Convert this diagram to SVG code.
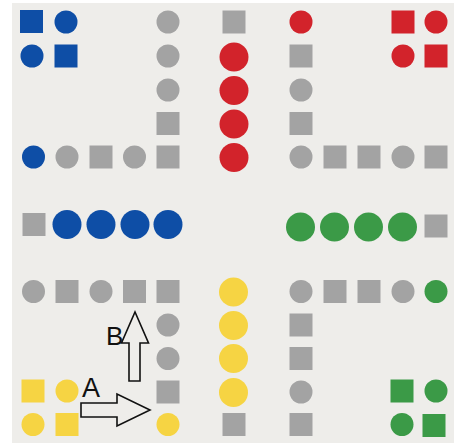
<svg xmlns="http://www.w3.org/2000/svg" width="454" height="443" viewBox="0 0 454 443">
<style>
.g{fill:#a3a3a3}
.b{fill:#0e4ea6}
.r{fill:#d2232b}
.gr{fill:#3b9a47}
.y{fill:#f6d443}
.arr{fill:none;stroke:#111;stroke-width:1.6;stroke-linejoin:miter}
.lbl{font-family:"Liberation Sans",Arial,sans-serif;fill:#111}
</style>
<defs>
<circle id="c" r="11.5"/>
<circle id="C" r="14.5"/>
<rect id="s" x="-11.5" y="-11.5" width="23" height="23"/>
</defs>
<rect width="454" height="443" fill="#ffffff"/>
<rect x="12" y="3" width="442" height="440" fill="#eeedea"/>

<g id="blue-home">
<use href="#s" class="b" x="31.5" y="21.5"/>
<use href="#c" class="b" x="66" y="22"/>
<use href="#c" class="b" x="32" y="56"/>
<use href="#s" class="b" x="66" y="56"/>
</g>
<g id="red-home">
<use href="#s" class="r" x="403" y="22"/>
<use href="#c" class="r" x="436" y="22"/>
<use href="#c" class="r" x="403" y="56"/>
<use href="#s" class="r" x="436" y="56"/>
</g>
<g id="yellow-home">
<use href="#s" class="y" x="33" y="391"/>
<use href="#c" class="y" x="67" y="391"/>
<use href="#c" class="y" x="33" y="424.5"/>
<use href="#s" class="y" x="67" y="424.5"/>
</g>
<g id="green-home">
<use href="#s" class="gr" x="402" y="391"/>
<use href="#c" class="gr" x="436" y="391"/>
<use href="#c" class="gr" x="402" y="424.5"/>
<use href="#s" class="gr" x="434" y="425.5"/>
</g>

<g id="top-arm">
<use href="#c" class="g" x="168" y="22"/>
<use href="#c" class="g" x="168" y="56"/>
<use href="#c" class="g" x="168" y="90"/>
<use href="#s" class="g" x="168" y="123.5"/>
<use href="#s" class="g" x="234" y="22"/>
<use href="#C" class="r" x="234" y="57"/>
<use href="#C" class="r" x="234" y="90.5"/>
<use href="#C" class="r" x="234" y="124"/>
<use href="#C" class="r" x="234" y="157.5"/>
<use href="#c" class="r" x="301" y="22"/>
<use href="#s" class="g" x="301" y="56"/>
<use href="#c" class="g" x="301" y="90"/>
<use href="#s" class="g" x="301" y="123.5"/>
</g>

<g id="left-arm">
<use href="#c" class="b" x="33.5" y="157"/>
<use href="#c" class="g" x="67" y="157"/>
<use href="#s" class="g" x="101" y="157"/>
<use href="#c" class="g" x="134.5" y="157"/>
<use href="#s" class="g" x="168" y="157"/>
<use href="#s" class="g" x="34" y="224.5"/>
<use href="#C" class="b" x="67" y="224.5"/>
<use href="#C" class="b" x="101" y="224.5"/>
<use href="#C" class="b" x="135" y="224.5"/>
<use href="#C" class="b" x="168" y="224.5"/>
<use href="#c" class="g" x="33.5" y="291.5"/>
<use href="#s" class="g" x="67" y="291.5"/>
<use href="#c" class="g" x="101" y="291.5"/>
<use href="#s" class="g" x="134.5" y="291.5"/>
<use href="#s" class="g" x="168" y="291.5"/>
</g>

<g id="right-arm">
<use href="#c" class="g" x="301" y="157"/>
<use href="#s" class="g" x="335" y="157"/>
<use href="#s" class="g" x="369" y="157"/>
<use href="#c" class="g" x="403" y="157"/>
<use href="#s" class="g" x="436" y="157"/>
<use href="#C" class="gr" x="300.5" y="227"/>
<use href="#C" class="gr" x="334.5" y="227"/>
<use href="#C" class="gr" x="368.5" y="227"/>
<use href="#C" class="gr" x="402.5" y="227"/>
<use href="#s" class="g" x="436" y="226"/>
<use href="#c" class="g" x="301" y="291.5"/>
<use href="#s" class="g" x="335" y="291.5"/>
<use href="#s" class="g" x="369" y="291.5"/>
<use href="#c" class="g" x="403" y="291.5"/>
<use href="#c" class="gr" x="436" y="291.5"/>
</g>

<g id="bottom-arm">
<use href="#c" class="g" x="168" y="325"/>
<use href="#c" class="g" x="168" y="358.5"/>
<use href="#s" class="g" x="168" y="392"/>
<use href="#c" class="y" x="168" y="424.5"/>
<use href="#C" class="y" x="233.5" y="292"/>
<use href="#C" class="y" x="233.5" y="325.5"/>
<use href="#C" class="y" x="233.5" y="358.5"/>
<use href="#C" class="y" x="233.5" y="392.5"/>
<use href="#s" class="g" x="234" y="424.5"/>
<use href="#s" class="g" x="301" y="325"/>
<use href="#s" class="g" x="301" y="358.5"/>
<use href="#c" class="g" x="301" y="392"/>
<use href="#s" class="g" x="301" y="424.5"/>
</g>

<g id="arrows">
<polygon class="arr" points="129,381 129,343 121.5,343 135,312 148.5,343 140,343 140,381"/>
<polygon class="arr" points="81,403 117,403 117,394 150,410 117,426 117,417 81,417"/>
</g>
<g id="labels">
<text class="lbl" x="106" y="345" font-size="26">B</text>
<text class="lbl" x="82" y="397" font-size="27">A</text>
</g>
</svg>
